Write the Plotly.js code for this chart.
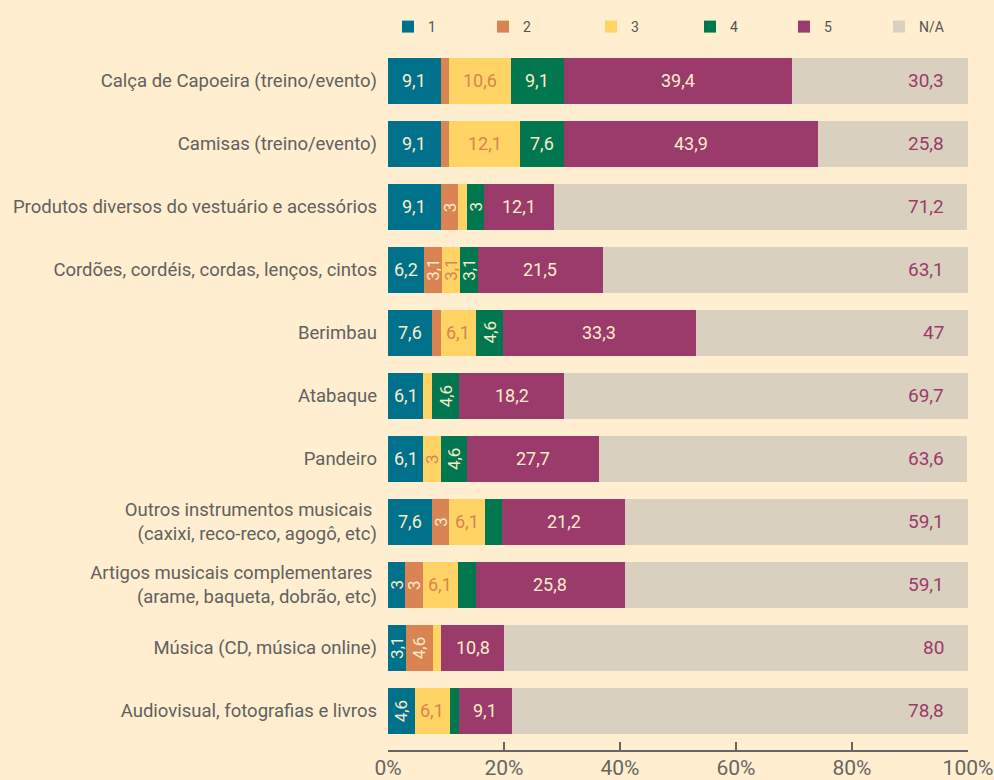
<!DOCTYPE html>
<html>
<head>
<meta charset="utf-8">
<script src="https://cdn.plot.ly/plotly-3.0.1.min.js"></script>
<style>html,body{margin:0;padding:0;background:#ffeecf;}#chart{width:994px;height:780px;}</style>
</head>
<body>
<div id="chart"></div>
<script>
const categories = [
  "Calça de Capoeira (treino/evento)",
  "Camisas (treino/evento)",
  "Produtos diversos do vestuário e acessórios",
  "Cordões, cordéis, cordas, lenços, cintos",
  "Berimbau",
  "Atabaque",
  "Pandeiro",
  "Outros instrumentos musicais\u00a0<br>(caxixi, reco-reco, agogô, etc)",
  "Artigos musicais complementares\u00a0<br>(arame, baqueta, dobrão, etc)",
  "Música (CD, música online)",
  "Audiovisual, fotografias e livros"
];
const seriesNames = ["1", "2", "3", "4", "5", "N/A"];
// values as drawn (percent)
const s1  = [9.1, 9.1, 9.1, 6.2, 7.6, 6.1, 6.1, 7.6, 3, 3.1, 4.6];
const s2  = [1.5, 1.5, 3, 3.1, 1.5, 0, 0, 3, 3, 4.6, 0];
const s3  = [10.6, 12.1, 1.5, 3.1, 6.1, 1.5, 3, 6.1, 6.1, 1.5, 6.1];
const s4  = [9.1, 7.6, 3, 3.1, 4.6, 4.6, 4.6, 3, 3, 0, 1.5];
const s5  = [39.4, 43.9, 12.1, 21.5, 33.3, 18.2, 22.6, 21.2, 25.8, 10.8, 9.1];
const sNA = [30.3, 25.8, 71.2, 63.1, 47, 69.7, 63.6, 59.1, 59.1, 80, 78.8];
// labels as printed
const t1  = ["9,1","9,1","9,1","6,2","7,6","6,1","6,1","7,6","3","3,1","4,6"];
const t2  = ["","","3","3,1","","","","3","3","4,6",""];
const t3  = ["10,6","12,1","","3,1","6,1","","3","6,1","6,1","","6,1"];
const t4  = ["9,1","7,6","3","3,1","4,6","4,6","4,6","","","",""];
const t5  = ["39,4","43,9","12,1","21,5","33,3","18,2","27,7","21,2","25,8","10,8","9,1"];
const tNA = ["30,3","25,8","71,2","63,1","47","69,7","63,6","59,1","59,1","80","78,8"];
const xTicks = [0, 20, 40, 60, 80, 100];

const FONT = 'Roboto, "Liberation Sans", sans-serif';
const colors = ["#00718b", "#d98452", "#ffd465", "#00774f", "#9a3b6b", "#dad0bf"];
const cream = "#fbebc9";
const textColors = [cream, cream, "#d98452", cream, cream, "#9a3b6b"];
const legendLeft = [388, 483, 591, 690, 784, 879];

const values = [s1, s2, s3, s4, s5, sNA];
const labels = [t1, t2, t3, t4, t5, tNA];

const legendIds = seriesNames.map((_, i) => i === 0 ? "legend" : "legend" + (i + 1));

const traces = values.map((v, i) => ({
  type: "bar",
  orientation: "h",
  name: seriesNames[i],
  legend: legendIds[i],
  x: v,
  y: categories,
  width: 0.73,
  marker: {color: colors[i], line: {width: 0}},
  hoverinfo: "x+y+name"
}));

const annotations = [];
categories.forEach((cat, r) => {
  let cum = 0;
  values.forEach((v, i) => {
    const val = v[r];
    const lab = labels[i][r];
    if (lab) {
      if (i === 5) {
        annotations.push({x: 100, y: cat, xref: "x", yref: "y", text: lab, showarrow: false,
          xanchor: "right", xshift: -22, font: {family: FONT, size: 19, color: textColors[i]}});
      } else {
        const rot = val < 5;
        annotations.push({x: cum + val / 2, y: cat, xref: "x", yref: "y", text: lab, showarrow: false,
          textangle: rot ? -90 : 0, xanchor: "center", yanchor: "middle",
          font: {family: FONT, size: rot ? 17 : 18, color: textColors[i]}});
      }
    }
    cum += val;
  });
});

const layout = {
  width: 994, height: 780,
  paper_bgcolor: "#ffeecf", plot_bgcolor: "#ffeecf",
  margin: {l: 388, r: 26, t: 50, b: 30, pad: 0, autoexpand: false},
  barmode: "stack",
  showlegend: true,
  xaxis: {range: [0, 100], tickvals: xTicks, ticktext: xTicks.map(t => t + "%"),
    ticks: "inside", ticklen: 8, tickwidth: 2, tickcolor: "#666666",
    showline: true, linecolor: "#666666", linewidth: 2, showgrid: false, zeroline: false,
    ticklabeloverflow: "allow", ticklabelstandoff: -2,
    tickfont: {family: FONT, size: 21, color: "#666666"}, fixedrange: true},
  yaxis: {type: "category", categoryorder: "array", categoryarray: categories,
    range: [10.62, -0.49], showgrid: false, zeroline: false, showline: false, ticks: "",
    ticklabelstandoff: 10,
    tickfont: {family: FONT, size: 18.5, color: "#616161"}, fixedrange: true},
  annotations: annotations,
  font: {family: FONT}
};
legendIds.forEach((id, i) => {
  layout[id] = {orientation: "h", xref: "container", x: legendLeft[i] / 994, xanchor: "left",
    yref: "container", y: 1 - 27 / 780, yanchor: "middle",
    font: {family: FONT, size: 14, color: "#555555"}, bgcolor: "rgba(0,0,0,0)"};
});

Plotly.newPlot("chart", traces, layout, {displayModeBar: false, staticPlot: true});
</script>
</body>
</html>
